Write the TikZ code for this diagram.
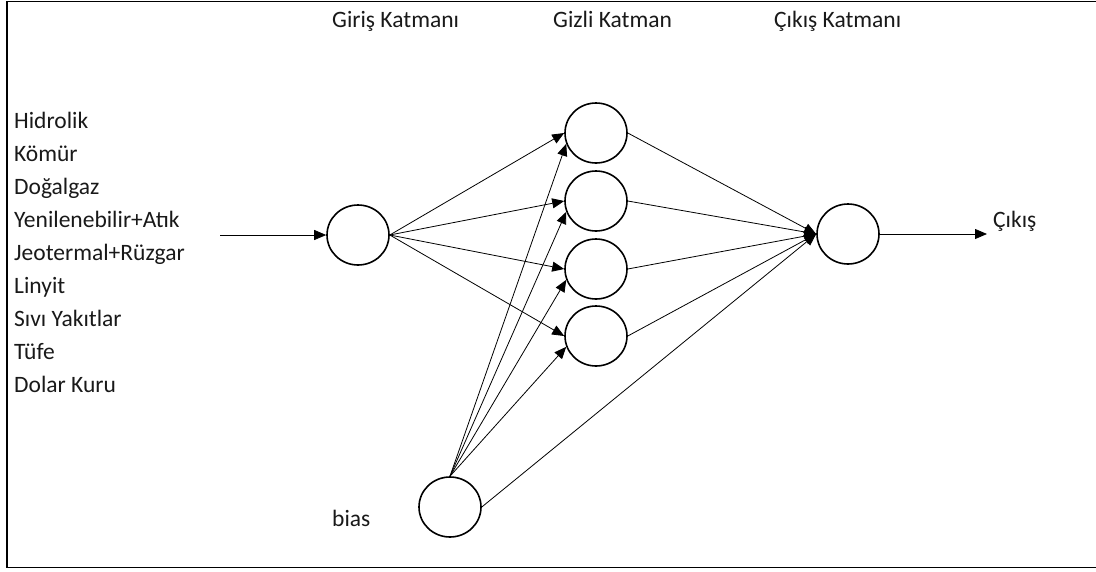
\documentclass[tikz,border=0pt]{standalone}
\usepackage{fontspec}
\setmainfont{Carlito}
\usetikzlibrary{arrows.meta,shapes.geometric}
\begin{document}
\begin{tikzpicture}[x=1pt,y=-1pt,
  neuron/.style={ellipse,draw,line width=1.6pt,minimum width=62pt,minimum height=60pt,inner sep=0pt},
  conn/.style={line width=0.8pt,-{Triangle[length=12pt,width=10pt]}},
  lbl/.style={font=\fontsize{23.5}{28}\selectfont,anchor=base west,inner sep=0pt,text=black!90}]
\useasboundingbox (0,0) rectangle (1096,571);
\draw[line width=1.8pt] (1096,1.5) -- (7,1.5) -- (7,567.5) -- (1096,567.5);
% nodes
\node[neuron] (in) at (358,235) {};
\node[neuron] (h1) at (596,133) {};
\node[neuron] (h2) at (596,201) {};
\node[neuron] (h3) at (596,269) {};
\node[neuron] (h4) at (596,336) {};
\node[neuron] (out) at (848,234) {};
\node[neuron] (bias) at (450,507) {};
\coordinate (src) at (220,235);
\coordinate (dst) at (987,234);
% headers
\node[lbl] (t1) at (332,27) {Giriş Katmanı};
\node[lbl] (t2) at (553,27) {Gizli Katman};
\node[lbl] (t3) at (774,27) {Çıkış Katmanı};
% inputs list
\node[lbl] (l1) at (14,128) {Hidrolik};
\node[lbl] (l2) at (14,161) {Kömür};
\node[lbl] (l3) at (14,194) {Doğalgaz};
\node[lbl] (l4) at (14,227) {Yenilenebilir+Atık};
\node[lbl] (l5) at (14,260) {Jeotermal+Rüzgar};
\node[lbl] (l6) at (14,293) {Linyit};
\node[lbl] (l7) at (14,326) {Sıvı Yakıtlar};
\node[lbl] (l8) at (14,359) {Tüfe};
\node[lbl] (l9) at (14,392) {Dolar Kuru};
\node[lbl] (bl) at (332,526) {bias};
\node[lbl] (ol) at (993,227) {Çıkış};
% connectors
\draw[conn] (src) -- (in.west);
\foreach \h in {h1,h2,h3,h4} {
  \draw[conn] (in.east) -- (\h.west);
  \draw[conn] (bias.north) -- (\h.200);
  \draw[conn] (\h.east) -- (out.west);
}
\draw[conn] (bias.east) -- (out.west);
\draw[conn] (out.east) -- (dst);
\end{tikzpicture}
\end{document}
